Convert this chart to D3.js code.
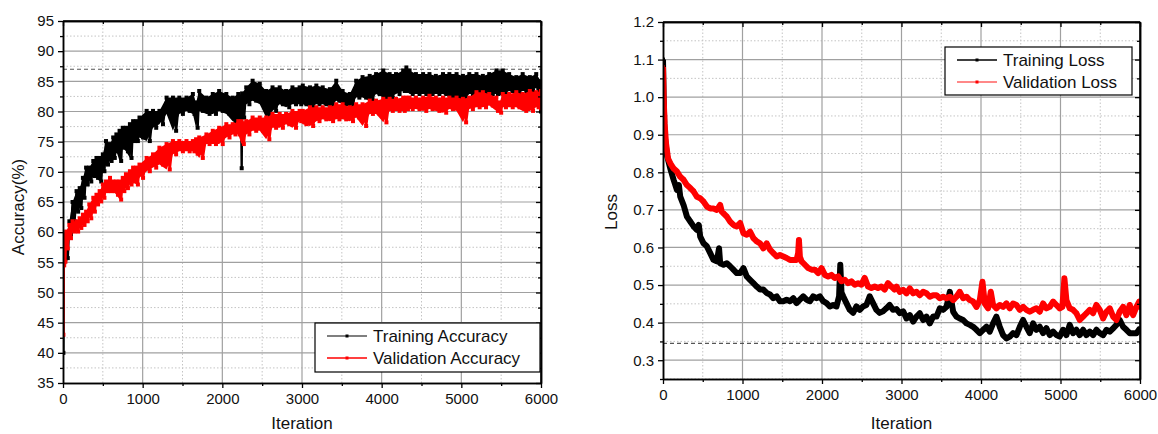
<!DOCTYPE html>
<html>
<head>
<meta charset="utf-8">
<script src="https://cdn.jsdelivr.net/npm/d3@7"></script>
<style>
  body { margin: 0; background: #fff; }
  text { font-family: Arial, "Liberation Sans", sans-serif; fill: #111; }
</style>
</head>
<body>
<svg id="canvas"></svg>
<script>
// tick labels
const iterTicks = [0, 1000, 2000, 3000, 4000, 5000, 6000];
const accTicks = [35, 40, 45, 50, 55, 60, 65, 70, 75, 80, 85, 90, 95];
const lossTicks = [0.3, 0.4, 0.5, 0.6, 0.7, 0.8, 0.9, 1.0, 1.1, 1.2];

// reference (dashed) levels
const accBest = 87;
const lossBest = 0.345;

// accuracy: [iteration, top of noise band, bottom of noise band]
const trainAcc = [
  [0,43,40],[10,57,55],[20,57.5,55.5],[40,59,55.7],[80,61.8,59.6],[120,65,61.8],[170,66.8,63.4],
  [210,67.3,64],[250,69,65.7],[290,70.7,67.9],[330,70.7,68.4],[380,71.8,69.3],[420,72.3,69],
  [460,72.3,68.4],[500,72.9,70.1],[540,75.1,71.2],[590,74.6,71.8],[630,75.7,72.3],[670,76.2,73.4],
  [710,76.8,71.8],[750,77.3,74],[790,77.3,73.4],[840,77.9,72.3],[880,78.4,75.1],[920,78.4,75.1],
  [960,79,75.7],[1050,80.1,75.1],[1130,80.1,77.3],[1210,80.1,77.9],[1300,82.3,79.6],[1380,82.3,76.8],
  [1460,82.3,79.6],[1550,82.3,80.1],[1630,82.9,79.6],[1670,81.5,77.3],[1710,83.4,80.1],[1800,82.3,79.6],
  [1880,82.9,79.6],[1960,83.4,80.1],[2050,82.9,79.6],[2130,82.3,78.4],[2200,82.9,78.4],[2230,82.5,78.5],
  [2238,78,70.6],[2248,83,79],[2300,84,81.2],[2380,85.1,81.8],[2470,84.6,81.2],[2550,83.4,79],
  [2630,84,80.1],[2720,84,81.2],[2800,83.4,80.7],[2880,84,81.2],[2970,84,81.2],[3010,84.3,81.2],
  [3100,84,80.7],[3180,84.3,81.2],[3260,84,81.2],[3350,83.7,80.7],[3430,85.1,81.8],[3510,83.4,81.2],
  [3600,82.9,80.7],[3680,85.1,82.3],[3760,85.7,82.3],[3850,85.9,81.8],[3930,86.2,82.9],[4020,86.8,82.3],
  [4100,86.2,82.3],[4180,86.2,82.9],[4270,86.8,83.4],[4310,87.3,83.4],[4350,86.8,82.9],[4430,86.2,82.9],
  [4520,86.2,82.9],[4600,86.2,82.9],[4680,85.9,82.9],[4770,86.2,82.9],[4850,86.2,82.3],[4940,86.2,82.3],
  [5020,85.9,81.8],[5100,86.2,82.9],[5190,86.2,82.9],[5270,85.9,82.9],[5350,86.2,82.9],[5440,86.8,82.9],
  [5480,86.5,83],[5520,86.8,82.9],[5600,86.2,83.4],[5690,85.7,82.9],[5770,86.2,83.4],[5860,85.7,83.4],
  [5940,86.2,83.9],[6000,85,80]
];
const validAcc = [
  [0,50,43],[10,55.5,54.5],[20,59.6,55.1],[40,60.1,57.3],[80,61.2,59],[120,61.8,60.1],[170,61.8,60.1],
  [210,62.3,60.7],[250,62.9,61.2],[290,63.4,61.8],[330,64.6,62.3],[380,65.7,63.4],[420,66.2,64.6],
  [460,66.8,65.1],[500,67.9,65.7],[540,68.4,66.8],[590,69,66.8],[630,68.4,66.8],[670,68.4,66.2],
  [710,68.4,65.4],[750,69,66.8],[790,69.6,67.3],[840,70.1,67.9],[880,70.7,68.4],[920,70.7,67.9],
  [960,71.2,69],[1050,72.3,70.1],[1130,72.9,70.7],[1210,74,71.2],[1300,74.6,70.4],[1380,75.1,72.9],
  [1460,75.1,73.4],[1550,75.1,73.4],[1630,75.1,73.4],[1670,75.4,73],[1710,75.7,72.3],[1800,76.2,74.6],
  [1880,76.8,74.6],[1960,77.3,74.6],[2050,77.9,75.7],[2130,77.9,76.2],[2200,78.4,76.2],[2240,78.4,74.6],
  [2300,78.4,76.2],[2380,79,76.8],[2470,79,76.8],[2550,79,75.4],[2630,79.6,77.3],[2720,79.6,77.3],
  [2800,79.6,77.9],[2880,80.1,77.3],[2970,80.1,78.4],[3010,80.1,77.9],[3100,80.7,77.6],[3180,80.7,78.4],
  [3260,80.7,78.7],[3350,80.7,78.4],[3430,81.2,78.7],[3510,81.2,78.7],[3600,80.7,78.4],[3680,81.2,79],
  [3760,81.2,77.6],[3850,81.8,79.6],[3930,81.8,79.6],[4020,82.1,78.2],[4100,82.1,80.1],[4180,82.1,80.1],
  [4270,82.3,80.1],[4310,82.3,80.4],[4350,82.3,80.4],[4430,82.3,80.4],[4520,82.3,80.1],[4600,82.6,80.4],
  [4680,82.3,80.1],[4770,82.3,79.8],[4850,82.3,80.4],[4940,82.3,80.1],[5020,82.1,78.2],[5100,82.3,80.4],
  [5190,83.2,80.7],[5270,83.2,80.7],[5350,82.9,81],[5440,82.3,80.1],[5480,81.5,79.8],[5520,82.9,80.7],
  [5600,82.9,80.7],[5690,83.2,80.7],[5770,82.9,80.1],[5860,83.4,80.1],[5940,83.2,80.7],[6000,83.4,80.5]
];

// loss: [iteration, value]
const trainLoss = [
  [0,1.1],[8,1.0],[20,0.9],[50,0.845],[92,0.81],[134,0.78],[176,0.753],[200,0.766],[217,0.735],[259,0.713],
  [301,0.682],[343,0.669],[385,0.656],[426,0.647],[450,0.66],[468,0.629],[510,0.611],[552,0.603],[594,0.585],
  [635,0.567],[677,0.563],[705,0.598],[719,0.558],[761,0.554],[803,0.558],[844,0.55],[886,0.541],[928,0.532],
  [970,0.532],[1012,0.545],[1053,0.523],[1095,0.514],[1137,0.505],[1179,0.496],[1221,0.488],[1262,0.488],
  [1304,0.479],[1346,0.475],[1388,0.465],[1430,0.47],[1471,0.457],[1513,0.457],[1555,0.461],[1597,0.457],
  [1639,0.465],[1680,0.452],[1722,0.461],[1764,0.47],[1806,0.461],[1848,0.457],[1889,0.47],[1931,0.465],
  [1973,0.47],[2015,0.457],[2057,0.452],[2098,0.443],[2140,0.447],[2182,0.443],[2215,0.47],[2230,0.554],
  [2245,0.48],[2266,0.47],[2307,0.452],[2349,0.434],[2391,0.426],[2433,0.443],[2475,0.434],[2516,0.443],
  [2558,0.447],[2600,0.47],[2642,0.452],[2684,0.434],[2725,0.426],[2767,0.43],[2809,0.438],[2851,0.447],
  [2893,0.434],[2937,0.436],[2979,0.425],[3021,0.43],[3063,0.411],[3105,0.42],[3147,0.403],[3189,0.416],
  [3230,0.425],[3272,0.407],[3314,0.416],[3356,0.398],[3398,0.416],[3440,0.416],[3482,0.438],[3524,0.434],
  [3566,0.442],[3608,0.482],[3650,0.429],[3691,0.416],[3733,0.411],[3775,0.407],[3817,0.398],[3859,0.394],
  [3901,0.389],[3943,0.381],[3985,0.372],[4027,0.381],[4069,0.389],[4110,0.376],[4152,0.398],[4194,0.416],
  [4236,0.389],[4278,0.367],[4320,0.358],[4362,0.363],[4404,0.372],[4446,0.367],[4488,0.389],[4529,0.407],
  [4571,0.389],[4613,0.372],[4655,0.398],[4697,0.381],[4739,0.389],[4781,0.372],[4823,0.385],[4865,0.367],
  [4907,0.376],[4948,0.367],[4990,0.363],[5032,0.381],[5074,0.367],[5116,0.394],[5158,0.372],[5200,0.381],
  [5242,0.367],[5284,0.381],[5326,0.367],[5368,0.376],[5410,0.367],[5452,0.381],[5494,0.372],[5536,0.367],
  [5578,0.381],[5620,0.376],[5662,0.385],[5703,0.394],[5745,0.407],[5787,0.389],[5829,0.381],[5871,0.372],
  [5913,0.372],[5955,0.372],[6000,0.385]
];
const validLoss = [
  [0,1.08],[8,1.0],[20,0.93],[38,0.877],[63,0.837],[92,0.824],[134,0.81],[176,0.802],[217,0.788],[259,0.78],
  [301,0.766],[343,0.758],[385,0.749],[426,0.735],[468,0.731],[510,0.722],[552,0.709],[594,0.704],[635,0.704],
  [677,0.7],[719,0.713],[740,0.695],[761,0.691],[803,0.682],[844,0.669],[886,0.66],[928,0.656],[970,0.665],
  [1012,0.638],[1053,0.634],[1095,0.642],[1137,0.625],[1179,0.616],[1221,0.611],[1262,0.598],[1304,0.611],
  [1346,0.594],[1388,0.585],[1430,0.576],[1471,0.58],[1513,0.576],[1555,0.572],[1597,0.567],[1639,0.567],
  [1680,0.567],[1700,0.585],[1710,0.62],[1722,0.575],[1743,0.563],[1785,0.554],[1827,0.545],[1868,0.541],
  [1910,0.541],[1952,0.532],[1994,0.545],[2036,0.527],[2077,0.523],[2119,0.527],[2161,0.519],[2203,0.523],
  [2245,0.51],[2287,0.514],[2328,0.505],[2370,0.51],[2412,0.501],[2454,0.505],[2496,0.501],[2537,0.519],
  [2579,0.496],[2621,0.492],[2663,0.496],[2704,0.492],[2746,0.496],[2788,0.488],[2830,0.505],[2872,0.496],
  [2913,0.488],[2937,0.496],[2979,0.482],[3021,0.487],[3063,0.478],[3105,0.491],[3147,0.478],[3189,0.482],
  [3230,0.473],[3272,0.482],[3314,0.478],[3356,0.469],[3398,0.473],[3440,0.473],[3482,0.465],[3524,0.469],
  [3566,0.465],[3608,0.469],[3650,0.46],[3691,0.469],[3733,0.482],[3775,0.465],[3817,0.469],[3859,0.46],
  [3901,0.456],[3943,0.442],[3985,0.46],[4018,0.509],[4048,0.451],[4089,0.438],[4123,0.482],[4152,0.447],
  [4194,0.438],[4236,0.447],[4278,0.442],[4320,0.451],[4362,0.438],[4404,0.451],[4446,0.447],[4488,0.434],
  [4529,0.442],[4571,0.434],[4613,0.429],[4655,0.434],[4697,0.438],[4739,0.429],[4781,0.451],[4823,0.438],
  [4865,0.442],[4907,0.456],[4948,0.447],[4990,0.438],[5024,0.442],[5049,0.518],[5074,0.46],[5116,0.438],
  [5158,0.434],[5200,0.425],[5242,0.407],[5284,0.416],[5326,0.425],[5368,0.434],[5410,0.425],[5452,0.447],
  [5494,0.434],[5536,0.411],[5578,0.429],[5620,0.438],[5662,0.416],[5703,0.407],[5745,0.429],[5787,0.442],
  [5829,0.42],[5871,0.447],[5913,0.42],[5955,0.442],[5990,0.456],[6000,0.44]
];

const svg = d3.select("#canvas").attr("width", 1158).attr("height", 434);

// turn [iter, hi, lo] samples into a jagged trace through the noise band
function band(data) {
  const pts = [];
  data.forEach((d, i) => {
    const next = i < data.length - 1 ? data[i + 1][0] : d[0];
    pts.push([d[0], d[1]]);
    pts.push([(d[0] + next) / 2, d[2]]);
  });
  return pts;
}

function panel(cfg) {
  const w = cfg.width, h = cfg.height;
  const g = svg.append("g").attr("transform", `translate(${cfg.left},${cfg.top})`);

  const x = d3.scaleLinear().domain([0, 6000]).range([0, w]);
  const y = d3.scaleLinear().domain(cfg.yDomain).range([h, 0]);

  const xMinor = d3.range(500, 6000, 1000);
  const yMinor = cfg.yTicks.slice(0, -1).map(v => v + cfg.yStep / 2)
    .concat(cfg.yDomain[0] < cfg.yTicks[0] ? [cfg.yTicks[0] - cfg.yStep / 2] : []);

  // grid
  g.append("g").selectAll("line").data(xMinor).join("line")
    .attr("x1", d => x(d)).attr("x2", d => x(d)).attr("y1", 0).attr("y2", h)
    .attr("stroke", "#c4c4c4").attr("stroke-dasharray", "1.5,2");
  g.append("g").selectAll("line").data(yMinor).join("line")
    .attr("y1", d => y(d)).attr("y2", d => y(d)).attr("x1", 0).attr("x2", w)
    .attr("stroke", "#c4c4c4").attr("stroke-dasharray", "1.5,2");
  g.append("g").selectAll("line").data(iterTicks.slice(1, -1)).join("line")
    .attr("x1", d => x(d)).attr("x2", d => x(d)).attr("y1", 0).attr("y2", h)
    .attr("stroke", "#a0a0a0").attr("stroke-width", 1.2);
  g.append("g").selectAll("line").data(cfg.yTicks.filter(v => v > cfg.yDomain[0] && v < cfg.yDomain[1])).join("line")
    .attr("y1", d => y(d)).attr("y2", d => y(d)).attr("x1", 0).attr("x2", w)
    .attr("stroke", "#a0a0a0").attr("stroke-width", 1.2);

  // reference line
  g.append("line")
    .attr("x1", 0).attr("x2", w).attr("y1", y(cfg.ref)).attr("y2", y(cfg.ref))
    .attr("stroke", "#555").attr("stroke-width", 1.2).attr("stroke-dasharray", "4,3");

  const clipId = "clip" + cfg.left;
  g.append("clipPath").attr("id", clipId).append("rect")
    .attr("x", 0).attr("y", -2).attr("width", w + 1).attr("height", h + 2);

  const line = d3.line().x(d => x(d[0])).y(d => y(d[1]));
  const area = d3.area().x(d => x(d[0])).y0(d => y(d[2])).y1(d => y(d[1]));
  const plot = g.append("g").attr("clip-path", `url(#${clipId})`);
  cfg.series.forEach(s => {
    if (s.band) {
      plot.append("path").datum(s.data)
        .attr("fill", s.color).attr("stroke", "none")
        .attr("d", area);
    }
    const pts = s.band ? band(s.data) : s.data;
    plot.append("path")
      .datum(pts)
      .attr("fill", "none")
      .attr("stroke", s.color)
      .attr("stroke-width", s.width)
      .attr("stroke-linejoin", "round")
      .attr("d", line);
    plot.append("g").selectAll("rect").data(pts).join("rect")
      .attr("x", d => x(d[0]) - 2).attr("y", d => y(d[1]) - 2)
      .attr("width", 4).attr("height", 4)
      .attr("fill", s.color);
  });

  // axes
  const fs = "15px";
  const bottom = g.append("g").attr("transform", `translate(0,${h})`)
    .call(d3.axisBottom(x).tickValues(iterTicks).tickFormat(d3.format("d")).tickSizeInner(5).tickSizeOuter(0).tickPadding(5));
  g.append("g").attr("transform", `translate(0,${h})`)
    .call(d3.axisBottom(x).tickValues(xMinor).tickFormat("").tickSizeInner(3).tickSizeOuter(0));
  const left = g.append("g")
    .call(d3.axisLeft(y).tickValues(cfg.yTicks).tickFormat(cfg.yFmt).tickSizeInner(5).tickSizeOuter(0).tickPadding(4));
  g.append("g").call(d3.axisLeft(y).tickValues(yMinor).tickFormat("").tickSizeInner(3).tickSizeOuter(0));
  g.append("g").call(d3.axisTop(x).tickValues(iterTicks).tickFormat("").tickSizeInner(-5).tickSizeOuter(0));
  g.append("g").call(d3.axisTop(x).tickValues(xMinor).tickFormat("").tickSizeInner(-3).tickSizeOuter(0));
  g.append("g").attr("transform", `translate(${w},0)`)
    .call(d3.axisRight(y).tickValues(cfg.yTicks).tickFormat("").tickSizeInner(-5).tickSizeOuter(0));
  g.append("g").attr("transform", `translate(${w},0)`)
    .call(d3.axisRight(y).tickValues(yMinor).tickFormat("").tickSizeInner(-3).tickSizeOuter(0));

  g.selectAll(".domain").attr("stroke", "#000").attr("stroke-width", 1.5);
  g.selectAll(".tick line").attr("stroke", "#000").attr("stroke-width", 1.3);
  bottom.selectAll("text").style("font-size", fs).attr("fill", "#111");
  left.selectAll("text").style("font-size", fs).attr("fill", "#111");

  // frame top & right
  g.append("line").attr("x1", 0).attr("x2", w).attr("y1", 0).attr("y2", 0)
    .attr("stroke", "#000").attr("stroke-width", 1.5);
  g.append("line").attr("x1", w).attr("x2", w).attr("y1", 0).attr("y2", h)
    .attr("stroke", "#000").attr("stroke-width", 1.5);

  // axis titles
  g.append("text")
    .attr("x", w / 2).attr("y", 429 - cfg.top)
    .attr("text-anchor", "middle").style("font-size", "17px")
    .text("Iteration");
  g.append("text")
    .attr("transform", `translate(${cfg.yTitleX},${cfg.yTitleY}) rotate(-90)`)
    .attr("text-anchor", "middle").style("font-size", "17px")
    .text(cfg.yTitle);

  // legend
  const L = cfg.legend;
  const lg = g.append("g").attr("transform", `translate(${L.x},${L.y})`);
  lg.append("rect").attr("width", L.w).attr("height", L.h)
    .attr("fill", "#fff").attr("stroke", "#000").attr("stroke-width", 1.2);
  cfg.series.forEach((s, i) => {
    const cy = 13 + i * 22;
    lg.append("line").attr("x1", 12).attr("x2", 52).attr("y1", cy).attr("y2", cy)
      .attr("stroke", s.legendColor).attr("stroke-width", 1.5);
    lg.append("rect").attr("x", 30.5).attr("y", cy - 1.5).attr("width", 3).attr("height", 3)
      .attr("fill", s.color);
    lg.append("text").attr("x", 58).attr("y", cy + 6).style("font-size", "17px").text(s.name);
  });
}

panel({
  left: 63, top: 21, width: 478, height: 362,
  yDomain: [35, 95], yTicks: accTicks, yStep: 5, yFmt: d3.format("d"),
  yTitle: "Accuracy(%)", yTitleX: -39, yTitleY: 186,
  ref: accBest,
  series: [
    { name: "Training Accuracy", data: trainAcc, band: true, color: "#000", legendColor: "#555", width: 2.4 },
    { name: "Validation Accuracy", data: validAcc, band: true, color: "#ff0000", legendColor: "#ff0000", width: 2.4 }
  ],
  legend: { x: 252, y: 302, w: 225, h: 49 }
});

panel({
  left: 663, top: 22, width: 477, height: 357,
  yDomain: [0.25, 1.2], yTicks: lossTicks, yStep: 0.1, yFmt: d3.format(".1f"),
  yTitle: "Loss", yTitleX: -46, yTitleY: 190,
  ref: lossBest,
  series: [
    { name: "Training Loss", data: trainLoss, band: false, color: "#000", legendColor: "#000", width: 6 },
    { name: "Validation Loss", data: validLoss, band: false, color: "#ff0000", legendColor: "#ff6060", width: 6 }
  ],
  legend: { x: 282, y: 25, w: 187, h: 48 }
});
</script>
</body>
</html>
